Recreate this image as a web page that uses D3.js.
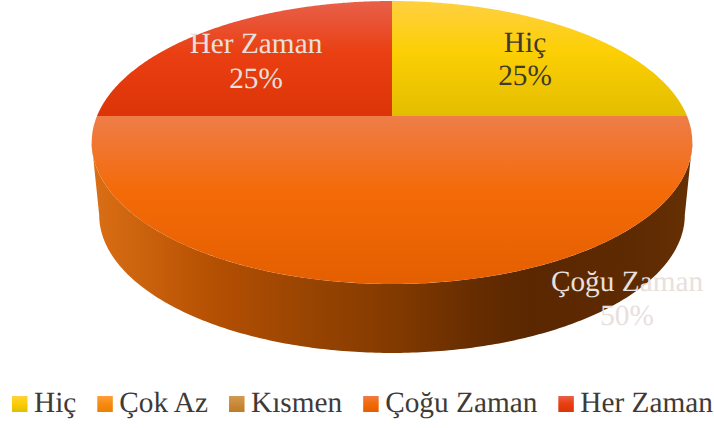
<!DOCTYPE html>
<html><head><meta charset="utf-8">
<script src="https://cdnjs.cloudflare.com/ajax/libs/d3/7.8.5/d3.min.js"></script>
<style>html,body{margin:0;padding:0;background:#fff}svg{display:block}text{font-family:"Liberation Serif",serif;text-rendering:geometricPrecision}</style>
</head><body><svg id="c" width="714" height="428"></svg>
<script>
const categories = ["Hiç","Çok Az","Kısmen","Çoğu Zaman","Her Zaman"];
const values = [25,0,0,50,25];
const valueLabels = ["25%","","","50%","25%"];
const topStops = [
  [["#ffd040",0],["#fccf04",.45],["#e3bd00",1]],
  [["#ff9f3b",0],["#f58a10",.5],["#ee8000",1]],
  [["#d49a52",0],["#c98a38",.5],["#c07a28",1]],
  [["#ee7d48",0],["#f46a08",.45],["#e45f00",1]],
  [["#e8604a",0],["#ea3f12",.45],["#dc3408",1]]
];
const svg = d3.select("#c");
const defs = svg.append("defs");
const cx = 392, k = 295, c = 0.1873;
function proj(a, r=1, dy=0, s=1){
  const u = r*Math.sin(a), v = r*Math.cos(a), w = c*v+1;
  return [cx + s*k*u/w, (-114.81*v+116)/w*s + (1-s)*142 + dy];
}
const line = d3.line();
function rim(a0,a1,dy=0,s=1,n=240){
  const t = d3.scaleLinear().domain([0,n]).range([a0,a1]);
  return d3.range(n+1).map(i=>proj(t(i),1,dy,s));
}
const pie = d3.pie().sort(null).value(d=>d)(values);
// wall
const wallStops=[[0,"#d96f16"],[.03,"#d56a12"],[.21,"#b34f02"],[.35,"#9a4502"],[.5,"#833a00"],[.65,"#642c00"],[.73,"#5a2700"],[.9,"#5e2a02"],[1,"#663004"]];
const wg=defs.append("linearGradient").attr("id","wall").attr("gradientUnits","userSpaceOnUse")
  .attr("x1",92).attr("x2",692).attr("y1",0).attr("y2",0);
wg.selectAll("stop").data(wallStops).join("stop").attr("offset",d=>d[0]).attr("stop-color",d=>d[1]);
const dy=72.5, s=0.975, edge=Math.asin(c);
const near=rim(Math.PI/2+edge,3*Math.PI/2-edge,0,1);
const far=rim(3*Math.PI/2-edge,Math.PI/2+edge,dy,s);
svg.append("path").attr("d",line(near.concat(far))+"Z").attr("fill","url(#wall)");
// top
pie.forEach((p,i)=>{
  if(p.endAngle===p.startAngle)return;
  const g=defs.append("linearGradient").attr("id","t"+i).attr("x1",0).attr("x2",0).attr("y1",0).attr("y2",1);
  g.selectAll("stop").data(topStops[i]).join("stop").attr("offset",d=>d[1]).attr("stop-color",d=>d[0]);
  svg.append("path").attr("d",line([proj(0,0)].concat(rim(p.startAngle,p.endAngle)))+"Z").attr("fill",`url(#t${i})`);
});
// labels
const labelPos=[[525,52,85,"#3f3a30"],null,null,[627,291,325,"#e8e0dc"],[256,53,88,"#e8e0dc"]];
labelPos.forEach((l,i)=>{
  if(!l)return;
  const t=svg.append("text").attr("text-anchor","middle").attr("font-size",29.3).attr("fill",l[3]);
  t.append("tspan").attr("x",l[0]).attr("y",l[1]).text(categories[i]);
  t.append("tspan").attr("x",l[0]).attr("y",l[2]).text(valueLabels[i]);
});
// legend
let x=12;
categories.forEach((n,i)=>{
  const g=defs.append("linearGradient").attr("id","l"+i).attr("x1",0).attr("x2",0).attr("y1",0).attr("y2",1);
  g.selectAll("stop").data(topStops[i]).join("stop").attr("offset",d=>d[1]).attr("stop-color",d=>d[0]);
  svg.append("rect").attr("x",x).attr("y",396).attr("width",15.5).attr("height",16).attr("fill",`url(#l${i})`);
  const t=svg.append("text").attr("x",x+22).attr("y",412).attr("font-size",29.3).attr("fill","#403a36").text(n);
  x+=22+t.node().getComputedTextLength()+21;
});
</script></body></html>
